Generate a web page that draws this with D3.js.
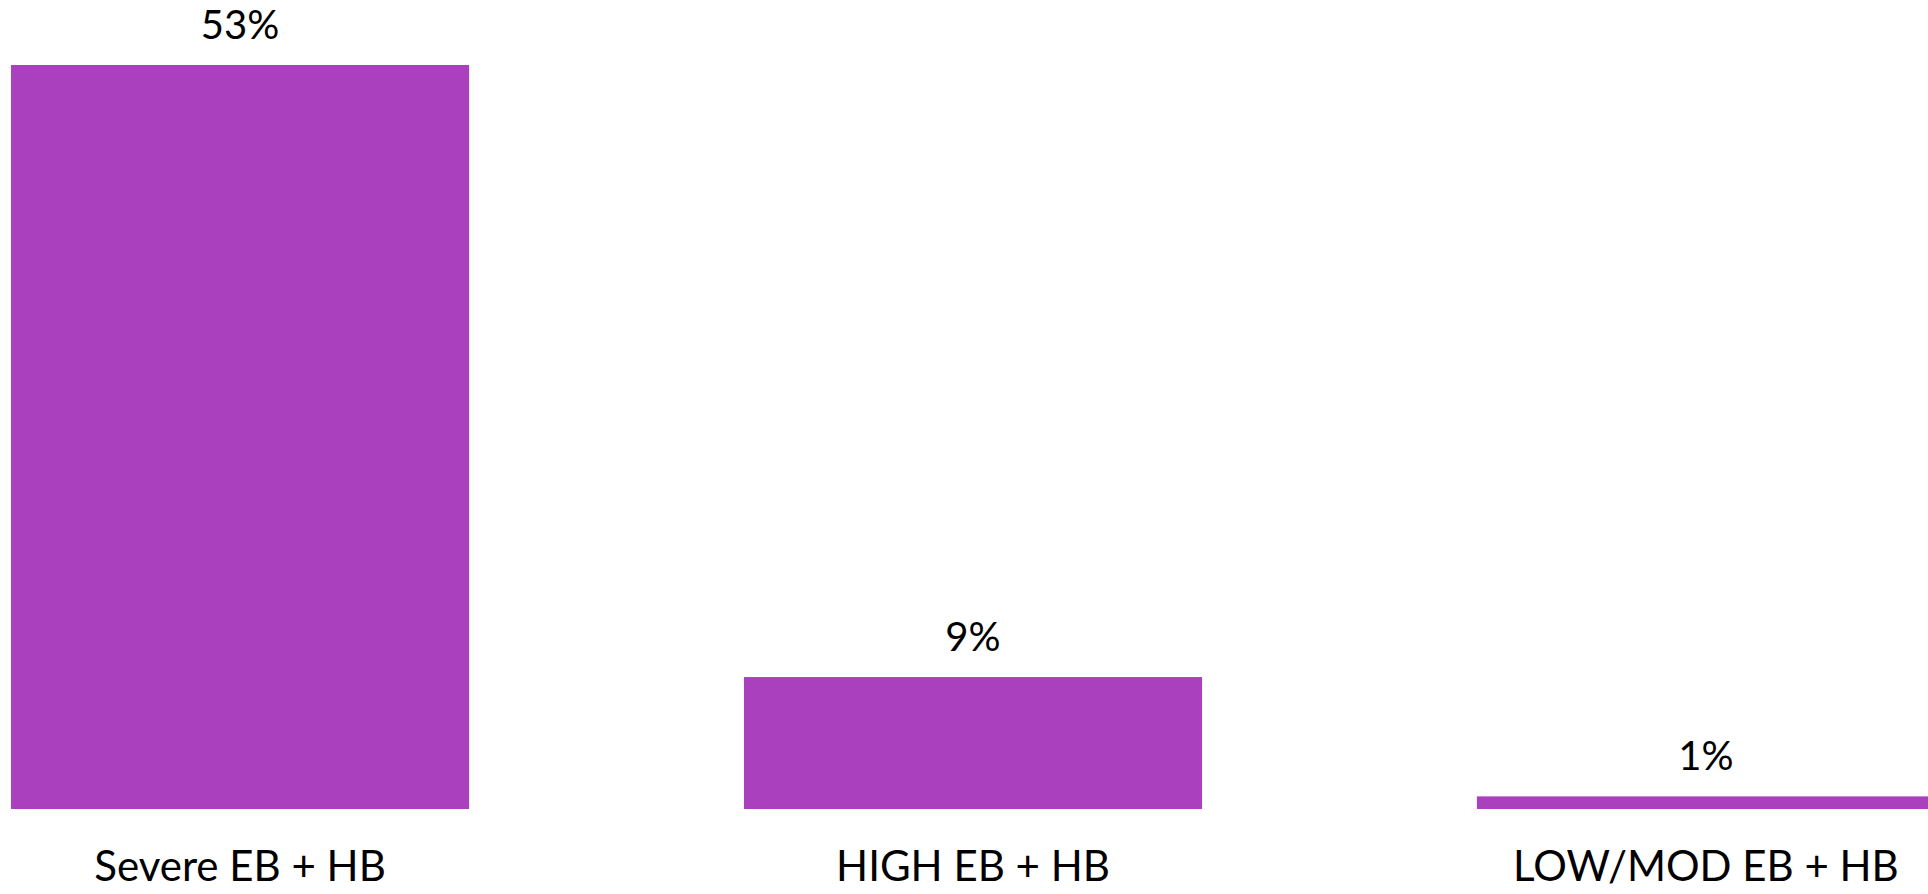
<!DOCTYPE html>
<html>
<head>
<meta charset="utf-8">
<script src="https://cdn.jsdelivr.net/npm/d3@7"></script>
<style>
  html, body { margin: 0; padding: 0; background: #ffffff; overflow: hidden; }
  svg { display: block; }
  text { font-family: Lato, "Open Sans", sans-serif; fill: #000; }
</style>
</head>
<body>
<svg id="chart" width="1928" height="894"></svg>
<script>
const categories = ["Severe EB + HB", "HIGH EB + HB", "LOW/MOD EB + HB"];
const values = [53, 9.4, 0.9];

const W = 1928, H = 894;
const baseY = 809, topY = 65;
const svg = d3.select("#chart");

const x = d3.scaleBand()
  .domain(categories)
  .range([11, 1935])
  .paddingInner(0.375)
  .paddingOuter(0);

const y = d3.scaleLinear()
  .domain([0, 53])
  .range([baseY, topY]);

svg.selectAll("rect.bar")
  .data(values)
  .join("rect")
  .attr("class", "bar")
  .attr("x", (d, i) => x(categories[i]))
  .attr("width", x.bandwidth())
  .attr("y", d => y(d))
  .attr("height", d => baseY - y(d))
  .attr("fill", "#AB40BF");

svg.selectAll("text.val")
  .data(values)
  .join("text")
  .attr("class", "val")
  .attr("x", (d, i) => x(categories[i]) + x.bandwidth() / 2)
  .attr("y", d => y(d) - 26)
  .attr("text-anchor", "middle")
  .style("font-size", "40px")
  .text(d => Math.round(d) + "%");

const xAxis = d3.axisBottom(x).tickSize(0).tickPadding(0);
const gx = svg.append("g")
  .attr("transform", `translate(0,${baseY})`)
  .call(xAxis);
gx.select(".domain").remove();
gx.selectAll(".tick text")
  .attr("dy", null)
  .attr("y", 72)
  .style("font-size", "42px")
  .style("font-family", "Lato, 'Open Sans', sans-serif")
  .attr("fill", "#000");
</script>
</body>
</html>
